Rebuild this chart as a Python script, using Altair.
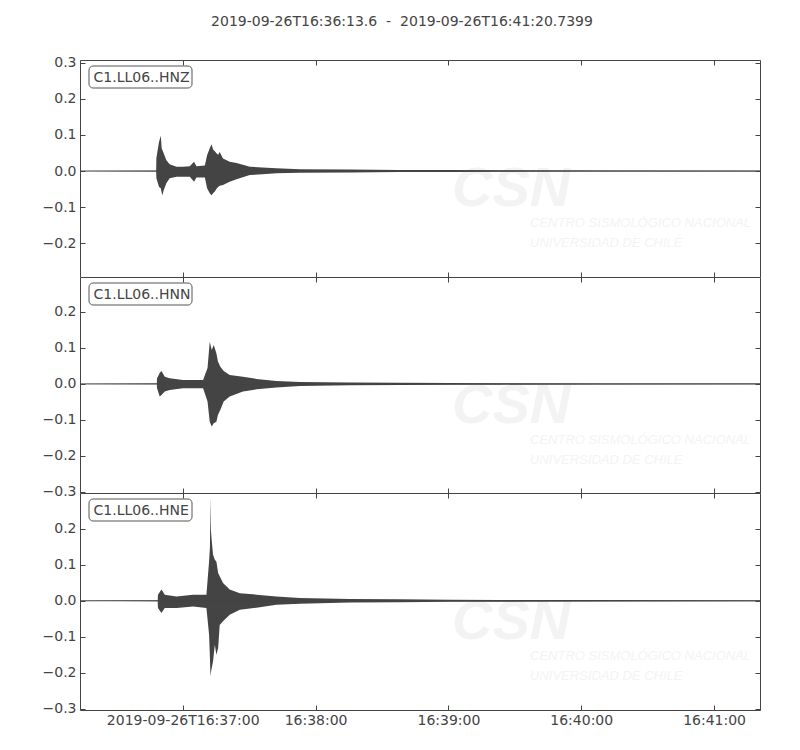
import altair as alt
import pandas as pd

# ---------------- data ----------------
TITLE = "2019-09-26T16:36:13.6\u00a0\u00a0-\u00a0\u00a02019-09-26T16:41:20.7399"
CHANNELS = ["C1.LL06..HNZ", "C1.LL06..HNN", "C1.LL06..HNE"]
X_TICKS = [60, 120, 180, 240, 300]          # seconds after 16:36:00
X_LABELS = ["2019-09-26T16:37:00", "16:38:00", "16:39:00", "16:40:00", "16:41:00"]
T_START, T_END = 13.6, 320.7399
Y_DOMAINS = [[-0.294, 0.308], [-0.303, 0.297], [-0.303, 0.299]]
Y_TICKS = [[-0.2, -0.1, 0.0, 0.1, 0.2, 0.3],
           [-0.3, -0.2, -0.1, 0.0, 0.1, 0.2],
           [-0.3, -0.2, -0.1, 0.0, 0.1, 0.2]]

# envelope of each trace (time in s after 16:36:00, upper / lower amplitude)
HNZ_T = [13.6, 48.0, 48.1, 49.3, 50.1, 50.5, 50.8, 51.4, 52.6, 54.1, 57.2, 60.1, 63.2, 65.1,
         66.2, 70.0, 71.0, 72.2, 73.0, 73.7, 74.5, 75.2, 76.0, 76.7, 78.2, 81.2, 84.3, 90.3,
         96.0, 102.3, 112.9, 135.5, 158.0, 180.6, 203.2, 248.4, 320.74]
HNZ_UP = [0.0, 0.001, 0.036, 0.081, 0.098, 0.063, 0.058, 0.049, 0.03, 0.019, 0.012, 0.012, 0.013, 0.026,
          0.013, 0.015, 0.044, 0.063, 0.074, 0.06, 0.055, 0.049, 0.045, 0.053, 0.035, 0.026, 0.022, 0.012,
          0.01, 0.0075, 0.005, 0.004, 0.003, 0.0025, 0.002, 0.0015, 0.001]
HNZ_LO = [0.0, -0.001, -0.02, -0.044, -0.048, -0.06, -0.067, -0.053, -0.034, -0.02, -0.016, -0.016, -0.016, -0.03,
          -0.018, -0.018, -0.048, -0.062, -0.067, -0.062, -0.057, -0.05, -0.044, -0.041, -0.039, -0.03, -0.023, -0.011,
          -0.009, -0.0065, -0.005, -0.004, -0.003, -0.0025, -0.002, -0.0015, -0.001]

HNN_T = [13.6, 48.3, 48.4, 49.6, 50.4, 51.9, 54.1, 60.1, 69.2, 71.2, 72.2, 73.1, 74.0, 75.2,
         75.9, 77.0, 78.5, 81.2, 87.2, 93.3, 102.3, 112.9, 135.5, 158.0, 180.6, 203.2, 248.4, 320.74]
HNN_UP = [0.0, 0.001, 0.016, 0.03, 0.036, 0.02, 0.016, 0.011, 0.011, 0.044, 0.117, 0.094, 0.108, 0.085,
          0.062, 0.048, 0.036, 0.025, 0.02, 0.014, 0.008, 0.005, 0.004, 0.003, 0.0025, 0.002, 0.0015, 0.001]
HNN_LO = [0.0, -0.001, -0.012, -0.035, -0.031, -0.021, -0.017, -0.012, -0.012, -0.049, -0.105, -0.118, -0.109, -0.105,
          -0.086, -0.072, -0.049, -0.035, -0.021, -0.015, -0.01, -0.006, -0.004, -0.003, -0.0025, -0.002, -0.0015, -0.001]

HNE_T = [13.6, 48.7, 48.8, 50.4, 51.9, 57.2, 64.7, 70.7, 71.9, 72.3, 72.5, 72.7, 73.0, 73.7,
         74.5, 75.2, 76.0, 76.7, 78.2, 81.2, 85.8, 93.3, 102.3, 112.9, 135.5, 158.0, 180.6, 203.2,
         248.4, 320.74]
HNE_UP = [0.0, 0.001, 0.017, 0.031, 0.017, 0.012, 0.017, 0.017, 0.109, 0.15, 0.288, 0.2, 0.174, 0.128,
          0.114, 0.109, 0.077, 0.068, 0.049, 0.031, 0.021, 0.017, 0.012, 0.008, 0.005, 0.004, 0.003, 0.0025,
          0.002, 0.001]
HNE_LO = [0.0, -0.001, -0.02, -0.034, -0.02, -0.02, -0.016, -0.02, -0.094, -0.16, -0.21, -0.2, -0.19, -0.168,
          -0.122, -0.15, -0.131, -0.067, -0.057, -0.039, -0.025, -0.019, -0.011, -0.008, -0.005, -0.004, -0.003, -0.0025,
          -0.002, -0.001]

TRACES = [(HNZ_T, HNZ_UP, HNZ_LO), (HNN_T, HNN_UP, HNN_LO), (HNE_T, HNE_UP, HNE_LO)]
WATERMARK = ["CSN", "CENTRO SISMOLÓGICO NACIONAL", "UNIVERSIDAD DE CHILE"]

# ---------------- style ----------------
W = 680
HEIGHTS = [217, 216, 217]
TRACE = "#444444"
AXIS = "#444444"
TEXT = "#444444"
FONT = "DejaVu Sans"
FS = 14
WM = "#f3f3f3"

x_expr = "''"
for v, lab in reversed(list(zip(X_TICKS, X_LABELS))):
    x_expr = f"datum.value == {v} ? '{lab}' : ({x_expr})"
y_expr = "replace(datum.label, '-', '\u2212')"


def panel(i, show_x):
    H = HEIGHTS[i]
    t, up, lo = TRACES[i]
    df = pd.DataFrame({"t": t, "up": up, "lo": lo})
    base_df = pd.DataFrame({"t": [T_START, T_END], "v": [0.0, 0.0]})
    xs = alt.Scale(domain=[T_START, T_END], nice=False, zero=False)
    ys = alt.Scale(domain=Y_DOMAINS[i], nice=False, zero=False)

    if show_x:
        x_axis = alt.Axis(values=X_TICKS, labelExpr=x_expr, tickSize=0, labelPadding=3,
                          domain=False, grid=False, title=None, labelFont=FONT,
                          labelFontSize=FS, labelColor=TEXT)
    else:
        x_axis = None
    y_axis = alt.Axis(values=Y_TICKS[i], format=".1f", labelExpr=y_expr, tickSize=0,
                      labelPadding=4, domain=False, grid=False, title=None, labelFont=FONT,
                      labelFontSize=FS, labelColor=TEXT)

    tick_x = dict(values=X_TICKS, labels=False, domain=True, domainColor=AXIS, domainWidth=1,
                  grid=False, tickSize=5, tickColor=AXIS, title=None)
    tick_y = dict(values=Y_TICKS[i], labels=False, domain=True, domainColor=AXIS, domainWidth=1,
                  grid=False, tickSize=5, tickColor=AXIS, title=None)

    wm_df = pd.DataFrame({"a": [WATERMARK[0]], "b": [WATERMARK[1]], "c": [WATERMARK[2]]})
    wm1 = alt.Chart(wm_df).mark_text(font="Liberation Sans", fontSize=56, fontWeight="bold",
                                     fontStyle="italic", color=WM, align="left",
                                     baseline="alphabetic", clip=True).encode(
        text="a:N", x=alt.value(372), y=alt.value(146))
    wm2 = alt.Chart(wm_df).mark_text(font="Liberation Sans", fontSize=13, fontStyle="italic",
                                     color=WM, align="left", baseline="middle", clip=True).encode(
        text="b:N", x=alt.value(450), y=alt.value(163))
    wm3 = alt.Chart(wm_df).mark_text(font="Liberation Sans", fontSize=13, fontStyle="italic",
                                     color=WM, align="left", baseline="middle", clip=True).encode(
        text="c:N", x=alt.value(450), y=alt.value(183))

    area = alt.Chart(df).mark_area(color=TRACE, opacity=1, interpolate="linear").encode(
        x=alt.X("t:Q", scale=xs, axis=x_axis),
        y=alt.Y("up:Q", scale=ys, axis=y_axis),
        y2="lo:Q",
    )
    line1 = alt.Chart(base_df).mark_line(color=TRACE, strokeWidth=1).encode(
        x=alt.X("t:Q", scale=xs, axis=alt.Axis(orient="top", offset=-H, **tick_x)),
        y=alt.Y("v:Q", scale=ys, axis=alt.Axis(orient="right", offset=-W, **tick_y)),
    )
    line2 = alt.Chart(base_df).mark_line(color=TRACE, strokeWidth=1, opacity=0).encode(
        x=alt.X("t:Q", scale=xs, axis=alt.Axis(orient="bottom", offset=-H, **tick_x)),
        y=alt.Y("v:Q", scale=ys, axis=alt.Axis(orient="left", offset=-W, **tick_y)),
    )

    lab_df = pd.DataFrame({"label": [CHANNELS[i]]})
    box = alt.Chart(lab_df).mark_rect(fill="white", stroke="#555555", strokeWidth=1,
                                      cornerRadius=4).encode(
        x=alt.value(9), x2=alt.value(112), y=alt.value(6), y2=alt.value(28))
    txt = alt.Chart(lab_df).mark_text(font=FONT, fontSize=FS, color=TEXT, align="left",
                                      baseline="middle").encode(
        text="label:N", x=alt.value(13.5), y=alt.value(17.5))

    return alt.layer(wm1, wm2, wm3, area, line1, line2, box, txt).resolve_axis(
        x="independent", y="independent").properties(width=W, height=H)


chart = alt.vconcat(panel(0, False), panel(1, False), panel(2, True),
                    spacing=0, bounds="flush").properties(
    title=alt.TitleParams(TITLE, font=FONT, fontSize=FS, fontWeight="normal", color=TEXT,
                          anchor="middle", offset=26),
    padding={"left": 33, "top": 7, "right": 5, "bottom": 5},
).configure_view(stroke="transparent", strokeWidth=0).configure(background="white")

chart.save("out.html", embed_options={"renderer": "svg", "actions": False})
